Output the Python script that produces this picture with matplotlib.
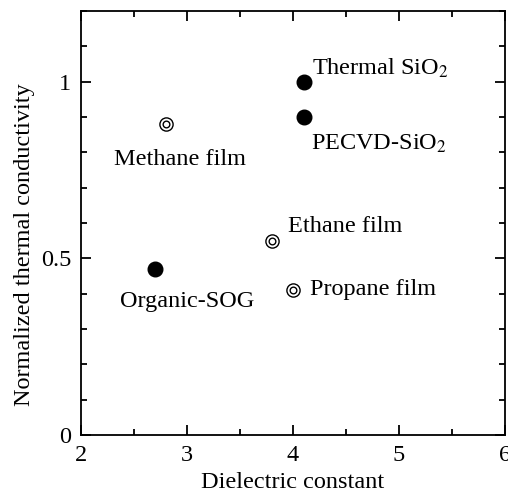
import numpy as np
import matplotlib
matplotlib.use("Agg")
import matplotlib.pyplot as plt
from matplotlib.ticker import MultipleLocator

plt.rcParams['font.family'] = ['Liberation Serif', 'DejaVu Serif']
plt.rcParams['mathtext.fontset'] = 'stix'

# filled markers: silica / SOG films
solid_names = ['Thermal SiO$_2$', 'PECVD-SiO$_2$', 'Organic-SOG']
solid_k = [4.1, 4.1, 2.7]
solid_tc = [1.0, 0.90, 0.47]

# double-ring markers: plasma polymer films
ring_names = ['Methane film', 'Ethane film', 'Propane film']
ring_k = [2.8, 3.8, 4.0]
ring_tc = [0.88, 0.55, 0.41]

# label placement (pixel offsets from each point, alignment)
solid_off = [((8, 13), 'left'), ((7, -27), 'left'), ((32, -33), 'center')]
ring_off = [((14, -35), 'center'), ((16, 14), 'left'), ((17, 1), 'left')]

FS = 17.5

fig = plt.figure(figsize=(5.08, 4.96), dpi=100)
ax = fig.add_axes([81/508, 1-435/496, 424/508, 424/496])

ax.plot(solid_k, solid_tc, 'o', color='black', markersize=10.5, linestyle='none')
ax.plot(ring_k, ring_tc, 'o', mfc='white', mec='black', mew=1.0, markersize=9.5, linestyle='none')
ax.plot(ring_k, ring_tc, 'o', mfc='white', mec='black', mew=1.0, markersize=4.8, linestyle='none')

for name, x, y, (off, ha) in zip(solid_names, solid_k, solid_tc, solid_off):
    ax.annotate(name, (x, y), xytext=off, textcoords='offset pixels',
                ha=ha, va='center', fontsize=FS)
for name, x, y, (off, ha) in zip(ring_names, ring_k, ring_tc, ring_off):
    ax.annotate(name, (x, y), xytext=off, textcoords='offset pixels',
                ha=ha, va='center', fontsize=FS)

ax.set_xlim(2, 6)
ax.set_ylim(0, 1.2)
ax.xaxis.set_major_locator(MultipleLocator(1))
ax.xaxis.set_minor_locator(MultipleLocator(0.5))
ax.yaxis.set_minor_locator(MultipleLocator(0.1))
ax.set_yticks([0, 0.5, 1])
ax.set_yticklabels(['0', '0.5', '1'])
ax.tick_params(which='both', direction='in', top=True, right=True, labelsize=FS, width=1.3)
ax.tick_params(which='major', length=7)
ax.tick_params(axis='y', which='major', pad=7)
ax.tick_params(axis='x', which='major', pad=7.5)
ax.tick_params(which='minor', length=4)
for s in ax.spines.values():
    s.set_linewidth(1.3)

ax.set_xlabel('Dielectric constant', fontsize=FS, labelpad=4)
ax.set_ylabel('Normalized thermal conductivity', fontsize=FS, labelpad=4.5, y=0.45)

fig.savefig('out.png', dpi=100)
